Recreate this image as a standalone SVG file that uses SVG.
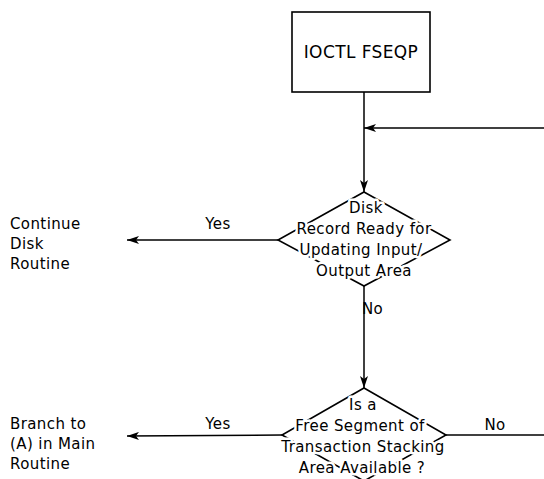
<svg xmlns="http://www.w3.org/2000/svg" width="544" height="479" viewBox="0 0 544 479">
<defs>
<marker id="ah" viewBox="0 0 12 8" refX="12" refY="4" markerWidth="12" markerHeight="8" markerUnits="userSpaceOnUse" orient="auto">
<path d="M0,0 L12,4 L0,8 L3,4 Z" fill="#000"/>
</marker>
</defs>
<style>
.ln{stroke:#000;stroke-width:1.5;fill:none}
.sh{stroke:#000;stroke-width:1.6;fill:#fff}
text{font-family:"DejaVu Sans","Liberation Sans",sans-serif;font-size:15px;letter-spacing:0.4px;fill:#000}
.c{text-anchor:middle}
.h{stroke:#fff;stroke-width:5px;paint-order:stroke;stroke-linejoin:round}
</style>
<rect width="544" height="479" fill="#fff"/>
<g id="connectors">
<line class="ln" x1="364" y1="92" x2="364" y2="192" marker-end="url(#ah)"/>
<line class="ln" x1="544" y1="128" x2="364" y2="128" marker-end="url(#ah)"/>
<line class="ln" x1="278" y1="240" x2="127" y2="240" marker-end="url(#ah)"/>
<line class="ln" x1="364" y1="285" x2="364" y2="388" marker-end="url(#ah)"/>
<line class="ln" x1="282" y1="435" x2="127" y2="436" marker-end="url(#ah)"/>
<line class="ln" x1="446" y1="435" x2="544" y2="435"/>
<text class="c" x="218" y="229">Yes</text>
<text x="362" y="314">No</text>
<text class="c" x="218" y="429">Yes</text>
<text class="c" x="495" y="430">No</text>
</g>
<g id="start">
<rect class="sh" x="292" y="12" width="138" height="80"/>
<text class="c" x="361" y="58" style="font-size:17px">IOCTL FSEQP</text>
</g>
<g id="decision1">
<polygon class="sh" points="364,192 450,240 364,286 278,240"/>
<text class="c h" x="366" y="213">Disk</text>
<text class="c h" x="364" y="234">Record Ready for</text>
<text class="c h" x="361" y="255">Updating Input/</text>
<text class="c h" x="364" y="276">Output Area</text>
</g>
<g id="decision2">
<polygon class="sh" points="364,388 446,435 364,481 282,435"/>
<text class="c h" x="363" y="410">Is a</text>
<text class="c h" x="360" y="431">Free Segment of</text>
<text class="c h" x="363" y="452">Transaction Stacking</text>
<text class="c h" x="362" y="473">Area Available ?</text>
</g>
<g id="continue">
<text x="10" y="229">Continue</text>
<text x="10" y="249">Disk</text>
<text x="10" y="269">Routine</text>
</g>
<g id="branch">
<text x="10" y="429">Branch to</text>
<text x="10" y="449">(A) in Main</text>
<text x="10" y="469">Routine</text>
</g>
</svg>
